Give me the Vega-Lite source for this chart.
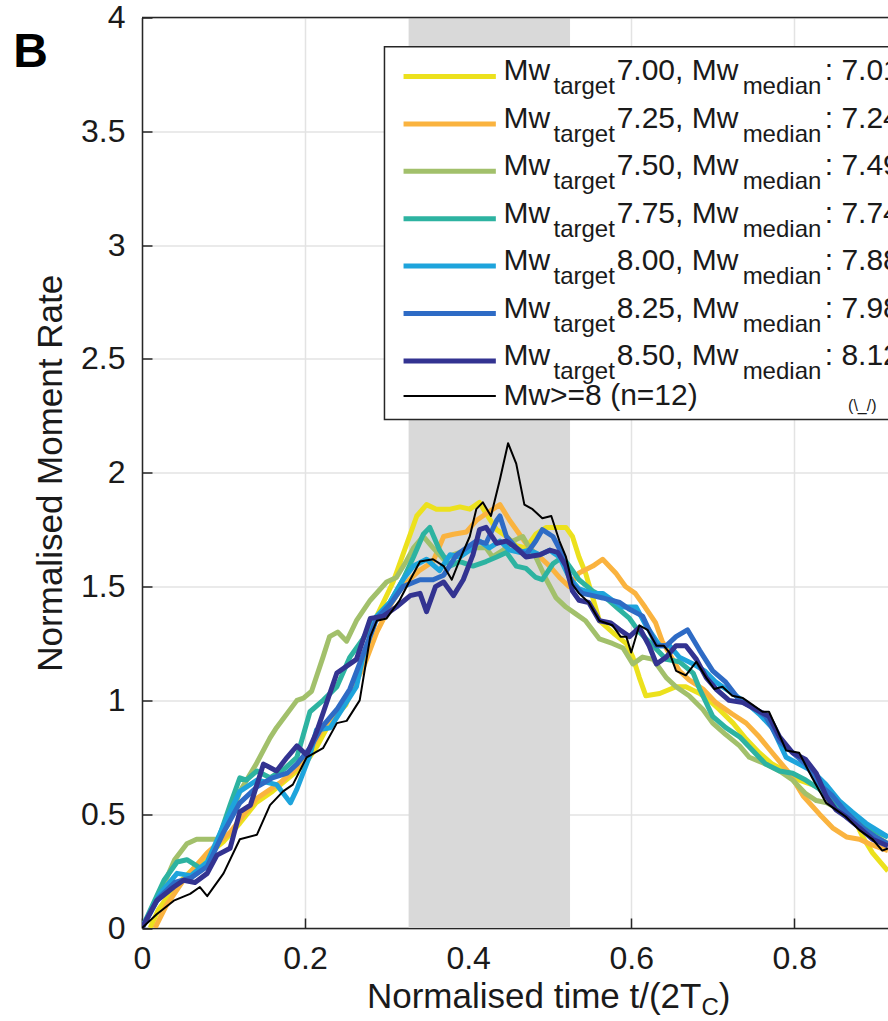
{
"$schema": "https://vega.github.io/schema/vega-lite/v6.json",
"width": 746, "height": 910.5,
"autosize": {"type": "none"},
"padding": {"left": 142, "top": 17.5, "right": 0, "bottom": 93},
"background": "white",
"config": {"view": {"stroke": null}, "font": "Liberation Sans"},
"datasets": {
"curves": [
{"s":"7.00","t":0.010,"v":0},{"s":"7.00","t":0.020,"v":0.08},{"s":"7.00","t":0.040,"v":0.18},{"s":"7.00","t":0.060,"v":0.25},{"s":"7.00","t":0.080,"v":0.32},{"s":"7.00","t":0.100,"v":0.38},{"s":"7.00","t":0.120,"v":0.46},{"s":"7.00","t":0.140,"v":0.55},{"s":"7.00","t":0.160,"v":0.60},{"s":"7.00","t":0.180,"v":0.66},{"s":"7.00","t":0.200,"v":0.72},{"s":"7.00","t":0.215,"v":0.80},{"s":"7.00","t":0.230,"v":0.90},{"s":"7.00","t":0.250,"v":0.98},{"s":"7.00","t":0.271,"v":1.17},{"s":"7.00","t":0.288,"v":1.37},{"s":"7.00","t":0.308,"v":1.52},{"s":"7.00","t":0.324,"v":1.68},{"s":"7.00","t":0.337,"v":1.81},{"s":"7.00","t":0.349,"v":1.86},{"s":"7.00","t":0.361,"v":1.84},{"s":"7.00","t":0.378,"v":1.84},{"s":"7.00","t":0.390,"v":1.85},{"s":"7.00","t":0.402,"v":1.84},{"s":"7.00","t":0.414,"v":1.87},{"s":"7.00","t":0.422,"v":1.82},{"s":"7.00","t":0.435,"v":1.75},{"s":"7.00","t":0.447,"v":1.72},{"s":"7.00","t":0.459,"v":1.68},{"s":"7.00","t":0.471,"v":1.67},{"s":"7.00","t":0.483,"v":1.73},{"s":"7.00","t":0.496,"v":1.76},{"s":"7.00","t":0.508,"v":1.76},{"s":"7.00","t":0.520,"v":1.76},{"s":"7.00","t":0.528,"v":1.72},{"s":"7.00","t":0.536,"v":1.63},{"s":"7.00","t":0.544,"v":1.56},{"s":"7.00","t":0.553,"v":1.45},{"s":"7.00","t":0.561,"v":1.35},{"s":"7.00","t":0.580,"v":1.29},{"s":"7.00","t":0.594,"v":1.25},{"s":"7.00","t":0.602,"v":1.19},{"s":"7.00","t":0.610,"v":1.10},{"s":"7.00","t":0.618,"v":1.02},{"s":"7.00","t":0.635,"v":1.03},{"s":"7.00","t":0.655,"v":1.06},{"s":"7.00","t":0.667,"v":1.06},{"s":"7.00","t":0.684,"v":1.03},{"s":"7.00","t":0.696,"v":1.00},{"s":"7.00","t":0.708,"v":0.96},{"s":"7.00","t":0.725,"v":0.90},{"s":"7.00","t":0.741,"v":0.83},{"s":"7.00","t":0.757,"v":0.77},{"s":"7.00","t":0.773,"v":0.72},{"s":"7.00","t":0.790,"v":0.69},{"s":"7.00","t":0.806,"v":0.65},{"s":"7.00","t":0.822,"v":0.63},{"s":"7.00","t":0.839,"v":0.61},{"s":"7.00","t":0.855,"v":0.55},{"s":"7.00","t":0.871,"v":0.50},{"s":"7.00","t":0.884,"v":0.40},{"s":"7.00","t":0.896,"v":0.33},{"s":"7.00","t":0.915,"v":0.25},
{"s":"7.25","t":0.016,"v":0},{"s":"7.25","t":0.030,"v":0.10},{"s":"7.25","t":0.051,"v":0.21},{"s":"7.25","t":0.080,"v":0.33},{"s":"7.25","t":0.108,"v":0.42},{"s":"7.25","t":0.125,"v":0.50},{"s":"7.25","t":0.141,"v":0.57},{"s":"7.25","t":0.170,"v":0.64},{"s":"7.25","t":0.198,"v":0.73},{"s":"7.25","t":0.222,"v":0.88},{"s":"7.25","t":0.247,"v":0.98},{"s":"7.25","t":0.271,"v":1.14},{"s":"7.25","t":0.288,"v":1.30},{"s":"7.25","t":0.305,"v":1.42},{"s":"7.25","t":0.317,"v":1.49},{"s":"7.25","t":0.328,"v":1.53},{"s":"7.25","t":0.340,"v":1.57},{"s":"7.25","t":0.357,"v":1.61},{"s":"7.25","t":0.370,"v":1.72},{"s":"7.25","t":0.382,"v":1.73},{"s":"7.25","t":0.398,"v":1.74},{"s":"7.25","t":0.410,"v":1.79},{"s":"7.25","t":0.422,"v":1.82},{"s":"7.25","t":0.439,"v":1.86},{"s":"7.25","t":0.451,"v":1.79},{"s":"7.25","t":0.463,"v":1.73},{"s":"7.25","t":0.475,"v":1.67},{"s":"7.25","t":0.488,"v":1.63},{"s":"7.25","t":0.500,"v":1.59},{"s":"7.25","t":0.512,"v":1.54},{"s":"7.25","t":0.524,"v":1.50},{"s":"7.25","t":0.536,"v":1.56},{"s":"7.25","t":0.553,"v":1.59},{"s":"7.25","t":0.565,"v":1.62},{"s":"7.25","t":0.581,"v":1.56},{"s":"7.25","t":0.593,"v":1.50},{"s":"7.25","t":0.605,"v":1.47},{"s":"7.25","t":0.617,"v":1.41},{"s":"7.25","t":0.630,"v":1.34},{"s":"7.25","t":0.638,"v":1.26},{"s":"7.25","t":0.659,"v":1.13},{"s":"7.25","t":0.671,"v":1.09},{"s":"7.25","t":0.688,"v":1.05},{"s":"7.25","t":0.704,"v":0.99},{"s":"7.25","t":0.724,"v":0.94},{"s":"7.25","t":0.741,"v":0.90},{"s":"7.25","t":0.757,"v":0.84},{"s":"7.25","t":0.773,"v":0.77},{"s":"7.25","t":0.794,"v":0.68},{"s":"7.25","t":0.811,"v":0.58},{"s":"7.25","t":0.831,"v":0.50},{"s":"7.25","t":0.847,"v":0.44},{"s":"7.25","t":0.864,"v":0.40},{"s":"7.25","t":0.880,"v":0.39},{"s":"7.25","t":0.892,"v":0.37},{"s":"7.25","t":0.915,"v":0.34},
{"s":"7.50","t":0,"v":0},{"s":"7.50","t":0.022,"v":0.15},{"s":"7.50","t":0.040,"v":0.30},{"s":"7.50","t":0.055,"v":0.37},{"s":"7.50","t":0.067,"v":0.39},{"s":"7.50","t":0.092,"v":0.39},{"s":"7.50","t":0.105,"v":0.45},{"s":"7.50","t":0.120,"v":0.60},{"s":"7.50","t":0.140,"v":0.72},{"s":"7.50","t":0.157,"v":0.835},{"s":"7.50","t":0.165,"v":0.88},{"s":"7.50","t":0.190,"v":1.00},{"s":"7.50","t":0.198,"v":1.01},{"s":"7.50","t":0.208,"v":1.04},{"s":"7.50","t":0.222,"v":1.19},{"s":"7.50","t":0.230,"v":1.28},{"s":"7.50","t":0.240,"v":1.30},{"s":"7.50","t":0.251,"v":1.26},{"s":"7.50","t":0.263,"v":1.35},{"s":"7.50","t":0.280,"v":1.44},{"s":"7.50","t":0.300,"v":1.52},{"s":"7.50","t":0.312,"v":1.54},{"s":"7.50","t":0.324,"v":1.61},{"s":"7.50","t":0.333,"v":1.67},{"s":"7.50","t":0.345,"v":1.72},{"s":"7.50","t":0.357,"v":1.67},{"s":"7.50","t":0.370,"v":1.62},{"s":"7.50","t":0.382,"v":1.64},{"s":"7.50","t":0.398,"v":1.66},{"s":"7.50","t":0.410,"v":1.67},{"s":"7.50","t":0.422,"v":1.67},{"s":"7.50","t":0.430,"v":1.63},{"s":"7.50","t":0.443,"v":1.66},{"s":"7.50","t":0.455,"v":1.70},{"s":"7.50","t":0.467,"v":1.72},{"s":"7.50","t":0.475,"v":1.67},{"s":"7.50","t":0.483,"v":1.63},{"s":"7.50","t":0.496,"v":1.53},{"s":"7.50","t":0.508,"v":1.45},{"s":"7.50","t":0.520,"v":1.41},{"s":"7.50","t":0.532,"v":1.38},{"s":"7.50","t":0.544,"v":1.35},{"s":"7.50","t":0.561,"v":1.27},{"s":"7.50","t":0.577,"v":1.25},{"s":"7.50","t":0.590,"v":1.23},{"s":"7.50","t":0.602,"v":1.16},{"s":"7.50","t":0.614,"v":1.19},{"s":"7.50","t":0.627,"v":1.18},{"s":"7.50","t":0.643,"v":1.10},{"s":"7.50","t":0.655,"v":1.06},{"s":"7.50","t":0.671,"v":1.02},{"s":"7.50","t":0.688,"v":0.96},{"s":"7.50","t":0.700,"v":0.90},{"s":"7.50","t":0.716,"v":0.85},{"s":"7.50","t":0.733,"v":0.80},{"s":"7.50","t":0.745,"v":0.75},{"s":"7.50","t":0.765,"v":0.72},{"s":"7.50","t":0.782,"v":0.69},{"s":"7.50","t":0.798,"v":0.65},{"s":"7.50","t":0.814,"v":0.59},{"s":"7.50","t":0.827,"v":0.56},{"s":"7.50","t":0.840,"v":0.55},{"s":"7.50","t":0.855,"v":0.52},{"s":"7.50","t":0.871,"v":0.48},{"s":"7.50","t":0.888,"v":0.43},{"s":"7.50","t":0.915,"v":0.37},
{"s":"7.75","t":0,"v":0},{"s":"7.75","t":0.027,"v":0.21},{"s":"7.75","t":0.043,"v":0.29},{"s":"7.75","t":0.055,"v":0.30},{"s":"7.75","t":0.073,"v":0.26},{"s":"7.75","t":0.085,"v":0.30},{"s":"7.75","t":0.108,"v":0.54},{"s":"7.75","t":0.120,"v":0.66},{"s":"7.75","t":0.128,"v":0.65},{"s":"7.75","t":0.141,"v":0.69},{"s":"7.75","t":0.157,"v":0.66},{"s":"7.75","t":0.175,"v":0.70},{"s":"7.75","t":0.190,"v":0.75},{"s":"7.75","t":0.206,"v":0.95},{"s":"7.75","t":0.222,"v":1.00},{"s":"7.75","t":0.239,"v":1.06},{"s":"7.75","t":0.255,"v":1.19},{"s":"7.75","t":0.271,"v":1.27},{"s":"7.75","t":0.288,"v":1.37},{"s":"7.75","t":0.304,"v":1.43},{"s":"7.75","t":0.320,"v":1.53},{"s":"7.75","t":0.333,"v":1.63},{"s":"7.75","t":0.345,"v":1.73},{"s":"7.75","t":0.353,"v":1.76},{"s":"7.75","t":0.365,"v":1.66},{"s":"7.75","t":0.378,"v":1.59},{"s":"7.75","t":0.390,"v":1.61},{"s":"7.75","t":0.406,"v":1.59},{"s":"7.75","t":0.422,"v":1.61},{"s":"7.75","t":0.435,"v":1.63},{"s":"7.75","t":0.447,"v":1.65},{"s":"7.75","t":0.459,"v":1.59},{"s":"7.75","t":0.471,"v":1.58},{"s":"7.75","t":0.483,"v":1.54},{"s":"7.75","t":0.491,"v":1.53},{"s":"7.75","t":0.504,"v":1.60},{"s":"7.75","t":0.516,"v":1.63},{"s":"7.75","t":0.524,"v":1.59},{"s":"7.75","t":0.536,"v":1.53},{"s":"7.75","t":0.553,"v":1.48},{"s":"7.75","t":0.569,"v":1.45},{"s":"7.75","t":0.585,"v":1.40},{"s":"7.75","t":0.598,"v":1.36},{"s":"7.75","t":0.610,"v":1.30},{"s":"7.75","t":0.627,"v":1.24},{"s":"7.75","t":0.643,"v":1.18},{"s":"7.75","t":0.659,"v":1.17},{"s":"7.75","t":0.676,"v":1.12},{"s":"7.75","t":0.684,"v":1.05},{"s":"7.75","t":0.700,"v":0.93},{"s":"7.75","t":0.716,"v":0.88},{"s":"7.75","t":0.733,"v":0.84},{"s":"7.75","t":0.749,"v":0.78},{"s":"7.75","t":0.765,"v":0.72},{"s":"7.75","t":0.782,"v":0.69},{"s":"7.75","t":0.798,"v":0.68},{"s":"7.75","t":0.814,"v":0.65},{"s":"7.75","t":0.831,"v":0.61},{"s":"7.75","t":0.847,"v":0.55},{"s":"7.75","t":0.863,"v":0.50},{"s":"7.75","t":0.880,"v":0.46},{"s":"7.75","t":0.896,"v":0.43},{"s":"7.75","t":0.915,"v":0.40},
{"s":"8.00","t":0,"v":0},{"s":"8.00","t":0.022,"v":0.15},{"s":"8.00","t":0.043,"v":0.24},{"s":"8.00","t":0.060,"v":0.23},{"s":"8.00","t":0.080,"v":0.29},{"s":"8.00","t":0.100,"v":0.45},{"s":"8.00","t":0.120,"v":0.60},{"s":"8.00","t":0.141,"v":0.65},{"s":"8.00","t":0.165,"v":0.63},{"s":"8.00","t":0.182,"v":0.55},{"s":"8.00","t":0.190,"v":0.61},{"s":"8.00","t":0.206,"v":0.76},{"s":"8.00","t":0.214,"v":0.87},{"s":"8.00","t":0.231,"v":0.88},{"s":"8.00","t":0.247,"v":0.97},{"s":"8.00","t":0.263,"v":1.06},{"s":"8.00","t":0.271,"v":1.19},{"s":"8.00","t":0.288,"v":1.37},{"s":"8.00","t":0.304,"v":1.43},{"s":"8.00","t":0.320,"v":1.53},{"s":"8.00","t":0.333,"v":1.59},{"s":"8.00","t":0.349,"v":1.62},{"s":"8.00","t":0.365,"v":1.57},{"s":"8.00","t":0.378,"v":1.64},{"s":"8.00","t":0.390,"v":1.63},{"s":"8.00","t":0.402,"v":1.66},{"s":"8.00","t":0.414,"v":1.70},{"s":"8.00","t":0.426,"v":1.67},{"s":"8.00","t":0.439,"v":1.70},{"s":"8.00","t":0.451,"v":1.66},{"s":"8.00","t":0.463,"v":1.65},{"s":"8.00","t":0.475,"v":1.66},{"s":"8.00","t":0.488,"v":1.64},{"s":"8.00","t":0.500,"v":1.66},{"s":"8.00","t":0.512,"v":1.63},{"s":"8.00","t":0.524,"v":1.54},{"s":"8.00","t":0.536,"v":1.49},{"s":"8.00","t":0.553,"v":1.47},{"s":"8.00","t":0.565,"v":1.47},{"s":"8.00","t":0.577,"v":1.44},{"s":"8.00","t":0.589,"v":1.41},{"s":"8.00","t":0.606,"v":1.41},{"s":"8.00","t":0.618,"v":1.33},{"s":"8.00","t":0.635,"v":1.24},{"s":"8.00","t":0.647,"v":1.24},{"s":"8.00","t":0.659,"v":1.19},{"s":"8.00","t":0.676,"v":1.16},{"s":"8.00","t":0.690,"v":1.13},{"s":"8.00","t":0.704,"v":1.08},{"s":"8.00","t":0.720,"v":1.04},{"s":"8.00","t":0.741,"v":0.99},{"s":"8.00","t":0.757,"v":0.94},{"s":"8.00","t":0.773,"v":0.88},{"s":"8.00","t":0.790,"v":0.75},{"s":"8.00","t":0.806,"v":0.72},{"s":"8.00","t":0.822,"v":0.69},{"s":"8.00","t":0.839,"v":0.63},{"s":"8.00","t":0.855,"v":0.56},{"s":"8.00","t":0.871,"v":0.51},{"s":"8.00","t":0.888,"v":0.46},{"s":"8.00","t":0.915,"v":0.40},
{"s":"8.25","t":0,"v":0},{"s":"8.25","t":0.020,"v":0.13},{"s":"8.25","t":0.040,"v":0.20},{"s":"8.25","t":0.060,"v":0.22},{"s":"8.25","t":0.080,"v":0.27},{"s":"8.25","t":0.100,"v":0.42},{"s":"8.25","t":0.120,"v":0.55},{"s":"8.25","t":0.141,"v":0.62},{"s":"8.25","t":0.160,"v":0.66},{"s":"8.25","t":0.178,"v":0.68},{"s":"8.25","t":0.190,"v":0.72},{"s":"8.25","t":0.206,"v":0.79},{"s":"8.25","t":0.220,"v":0.88},{"s":"8.25","t":0.239,"v":0.96},{"s":"8.25","t":0.255,"v":1.05},{"s":"8.25","t":0.271,"v":1.20},{"s":"8.25","t":0.288,"v":1.36},{"s":"8.25","t":0.304,"v":1.42},{"s":"8.25","t":0.320,"v":1.50},{"s":"8.25","t":0.341,"v":1.53},{"s":"8.25","t":0.357,"v":1.53},{"s":"8.25","t":0.370,"v":1.55},{"s":"8.25","t":0.386,"v":1.64},{"s":"8.25","t":0.398,"v":1.67},{"s":"8.25","t":0.410,"v":1.70},{"s":"8.25","t":0.422,"v":1.69},{"s":"8.25","t":0.435,"v":1.79},{"s":"8.25","t":0.439,"v":1.81},{"s":"8.25","t":0.447,"v":1.72},{"s":"8.25","t":0.459,"v":1.67},{"s":"8.25","t":0.471,"v":1.64},{"s":"8.25","t":0.483,"v":1.70},{"s":"8.25","t":0.491,"v":1.75},{"s":"8.25","t":0.504,"v":1.72},{"s":"8.25","t":0.516,"v":1.64},{"s":"8.25","t":0.528,"v":1.51},{"s":"8.25","t":0.540,"v":1.47},{"s":"8.25","t":0.553,"v":1.46},{"s":"8.25","t":0.565,"v":1.45},{"s":"8.25","t":0.586,"v":1.43},{"s":"8.25","t":0.598,"v":1.40},{"s":"8.25","t":0.614,"v":1.37},{"s":"8.25","t":0.631,"v":1.24},{"s":"8.25","t":0.643,"v":1.24},{"s":"8.25","t":0.655,"v":1.28},{"s":"8.25","t":0.669,"v":1.31},{"s":"8.25","t":0.684,"v":1.22},{"s":"8.25","t":0.700,"v":1.13},{"s":"8.25","t":0.716,"v":1.08},{"s":"8.25","t":0.733,"v":1.00},{"s":"8.25","t":0.749,"v":0.97},{"s":"8.25","t":0.765,"v":0.93},{"s":"8.25","t":0.782,"v":0.82},{"s":"8.25","t":0.798,"v":0.77},{"s":"8.25","t":0.814,"v":0.72},{"s":"8.25","t":0.831,"v":0.63},{"s":"8.25","t":0.847,"v":0.58},{"s":"8.25","t":0.863,"v":0.51},{"s":"8.25","t":0.884,"v":0.44},{"s":"8.25","t":0.900,"v":0.40},{"s":"8.25","t":0.915,"v":0.37},
{"s":"8.50","t":0,"v":0},{"s":"8.50","t":0.018,"v":0.12},{"s":"8.50","t":0.039,"v":0.18},{"s":"8.50","t":0.051,"v":0.21},{"s":"8.50","t":0.065,"v":0.20},{"s":"8.50","t":0.080,"v":0.24},{"s":"8.50","t":0.092,"v":0.32},{"s":"8.50","t":0.108,"v":0.35},{"s":"8.50","t":0.120,"v":0.51},{"s":"8.50","t":0.133,"v":0.54},{"s":"8.50","t":0.149,"v":0.72},{"s":"8.50","t":0.165,"v":0.69},{"s":"8.50","t":0.178,"v":0.75},{"s":"8.50","t":0.190,"v":0.80},{"s":"8.50","t":0.202,"v":0.76},{"s":"8.50","t":0.214,"v":0.86},{"s":"8.50","t":0.239,"v":1.12},{"s":"8.50","t":0.263,"v":1.18},{"s":"8.50","t":0.280,"v":1.36},{"s":"8.50","t":0.296,"v":1.37},{"s":"8.50","t":0.312,"v":1.41},{"s":"8.50","t":0.329,"v":1.46},{"s":"8.50","t":0.341,"v":1.47},{"s":"8.50","t":0.349,"v":1.39},{"s":"8.50","t":0.360,"v":1.50},{"s":"8.50","t":0.370,"v":1.52},{"s":"8.50","t":0.382,"v":1.46},{"s":"8.50","t":0.394,"v":1.53},{"s":"8.50","t":0.406,"v":1.64},{"s":"8.50","t":0.414,"v":1.75},{"s":"8.50","t":0.422,"v":1.76},{"s":"8.50","t":0.435,"v":1.69},{"s":"8.50","t":0.447,"v":1.70},{"s":"8.50","t":0.459,"v":1.67},{"s":"8.50","t":0.471,"v":1.63},{"s":"8.50","t":0.488,"v":1.64},{"s":"8.50","t":0.500,"v":1.66},{"s":"8.50","t":0.510,"v":1.65},{"s":"8.50","t":0.520,"v":1.59},{"s":"8.50","t":0.528,"v":1.48},{"s":"8.50","t":0.536,"v":1.44},{"s":"8.50","t":0.548,"v":1.43},{"s":"8.50","t":0.561,"v":1.35},{"s":"8.50","t":0.575,"v":1.34},{"s":"8.50","t":0.586,"v":1.31},{"s":"8.50","t":0.598,"v":1.28},{"s":"8.50","t":0.610,"v":1.32},{"s":"8.50","t":0.622,"v":1.24},{"s":"8.50","t":0.631,"v":1.16},{"s":"8.50","t":0.643,"v":1.19},{"s":"8.50","t":0.655,"v":1.24},{"s":"8.50","t":0.667,"v":1.24},{"s":"8.50","t":0.680,"v":1.18},{"s":"8.50","t":0.692,"v":1.10},{"s":"8.50","t":0.704,"v":1.05},{"s":"8.50","t":0.720,"v":1.00},{"s":"8.50","t":0.737,"v":0.99},{"s":"8.50","t":0.753,"v":0.96},{"s":"8.50","t":0.769,"v":0.93},{"s":"8.50","t":0.782,"v":0.84},{"s":"8.50","t":0.798,"v":0.77},{"s":"8.50","t":0.814,"v":0.74},{"s":"8.50","t":0.827,"v":0.68},{"s":"8.50","t":0.839,"v":0.58},{"s":"8.50","t":0.851,"v":0.52},{"s":"8.50","t":0.863,"v":0.49},{"s":"8.50","t":0.880,"v":0.44},{"s":"8.50","t":0.896,"v":0.39},{"s":"8.50","t":0.915,"v":0.36}
],
"black": [
{"t":0,"v":0},{"t":0.018,"v":0.06},{"t":0.039,"v":0.12},{"t":0.059,"v":0.15},{"t":0.071,"v":0.18},{"t":0.080,"v":0.14},{"t":0.100,"v":0.24},{"t":0.120,"v":0.39},{"t":0.141,"v":0.41},{"t":0.157,"v":0.54},{"t":0.173,"v":0.60},{"t":0.185,"v":0.63},{"t":0.202,"v":0.75},{"t":0.222,"v":0.79},{"t":0.239,"v":0.90},{"t":0.251,"v":0.91},{"t":0.267,"v":1.00},{"t":0.280,"v":1.28},{"t":0.288,"v":1.35},{"t":0.300,"v":1.36},{"t":0.316,"v":1.44},{"t":0.329,"v":1.53},{"t":0.341,"v":1.61},{"t":0.357,"v":1.62},{"t":0.370,"v":1.59},{"t":0.380,"v":1.53},{"t":0.390,"v":1.62},{"t":0.402,"v":1.72},{"t":0.410,"v":1.84},{"t":0.418,"v":1.87},{"t":0.428,"v":1.81},{"t":0.439,"v":1.97},{"t":0.449,"v":2.13},{"t":0.459,"v":2.04},{"t":0.469,"v":1.86},{"t":0.479,"v":1.84},{"t":0.491,"v":1.80},{"t":0.502,"v":1.81},{"t":0.512,"v":1.70},{"t":0.520,"v":1.63},{"t":0.528,"v":1.51},{"t":0.536,"v":1.47},{"t":0.548,"v":1.43},{"t":0.561,"v":1.35},{"t":0.577,"v":1.33},{"t":0.587,"v":1.28},{"t":0.594,"v":1.28},{"t":0.600,"v":1.21},{"t":0.610,"v":1.33},{"t":0.620,"v":1.31},{"t":0.631,"v":1.24},{"t":0.640,"v":1.24},{"t":0.647,"v":1.21},{"t":0.655,"v":1.13},{"t":0.667,"v":1.11},{"t":0.680,"v":1.17},{"t":0.692,"v":1.10},{"t":0.702,"v":1.05},{"t":0.712,"v":1.06},{"t":0.724,"v":1.02},{"t":0.737,"v":1.01},{"t":0.749,"v":0.98},{"t":0.761,"v":0.95},{"t":0.769,"v":0.95},{"t":0.778,"v":0.88},{"t":0.790,"v":0.78},{"t":0.806,"v":0.77},{"t":0.822,"v":0.66},{"t":0.839,"v":0.55},{"t":0.851,"v":0.52},{"t":0.863,"v":0.49},{"t":0.880,"v":0.43},{"t":0.896,"v":0.39},{"t":0.908,"v":0.34},{"t":0.915,"v":0.35}
],
"legend": [
{"s":"7.00","order":1,"num":"7.00, Mw","med":": 7.01"},
{"s":"7.25","order":2,"num":"7.25, Mw","med":": 7.24"},
{"s":"7.50","order":3,"num":"7.50, Mw","med":": 7.49"},
{"s":"7.75","order":4,"num":"7.75, Mw","med":": 7.74"},
{"s":"8.00","order":5,"num":"8.00, Mw","med":": 7.88"},
{"s":"8.25","order":6,"num":"8.25, Mw","med":": 7.98"},
{"s":"8.50","order":7,"num":"8.50, Mw","med":": 8.12"}
],
"one": [{}]
},
"layer": [
{
"layer": [
{"data": {"name": "one"}, "mark": {"type": "rect", "color": "#d9d9d9"},
 "encoding": {
  "x": {"datum": 0.327, "type": "quantitative", "scale": {"domain": [0, 0.915], "nice": false, "zero": false},
        "axis": {"values": [0,0.2,0.4,0.6,0.8], "format": "~g", "title": null, "grid": true, "gridColor": "#e3e3e3", "gridWidth": 1.5,
                 "domainColor": "#262626", "domainWidth": 1.5, "tickColor": "#262626", "tickWidth": 1.5, "tickSize": -10,
                 "labelFontSize": 32, "labelColor": "#1a1a1a", "labelPadding": 25, "labelFlush": false, "labelOverlap": false, "labelFont": "Liberation Sans"}},
  "x2": {"datum": 0.525},
  "y": {"datum": 0, "type": "quantitative", "scale": {"domain": [0, 4], "nice": false, "zero": false},
        "axis": {"values": [0,0.5,1,1.5,2,2.5,3,3.5,4], "format": "~g", "title": "Normalised Moment Rate", "titleFontSize": 35, "titleFontWeight": "normal",
                 "titleColor": "#1a1a1a", "titleFont": "Liberation Sans", "titlePadding": 12, "grid": true, "gridColor": "#e3e3e3", "gridWidth": 1.5,
                 "domainColor": "#262626", "domainWidth": 1.5, "tickColor": "#262626", "tickWidth": 1.5, "tickSize": -10,
                 "labelFontSize": 32, "labelColor": "#1a1a1a", "labelPadding": 27, "labelFlush": false, "labelOverlap": false, "labelFont": "Liberation Sans"}},
  "y2": {"datum": 4}}},
{"data": {"name": "curves"}, "mark": {"type": "line", "strokeWidth": 5, "clip": true, "strokeJoin": "round"},
 "encoding": {
  "x": {"field": "t", "type": "quantitative"},
  "y": {"field": "v", "type": "quantitative"},
  "color": {"field": "s", "type": "nominal", "legend": null,
            "scale": {"domain": ["7.00","7.25","7.50","7.75","8.00","8.25","8.50"], "range": ["#ece11d","#fab33f","#a2c06b","#2db3a1","#1ea4dc","#2e6bc5","#333391"]}}
 }},
{"data": {"name": "black"}, "mark": {"type": "line", "strokeWidth": 2, "color": "#000000", "clip": true, "strokeJoin": "round"},
 "encoding": {"x": {"field": "t", "type": "quantitative"}, "y": {"field": "v", "type": "quantitative"}}},
{"data": {"name": "one"}, "mark": {"type": "rule", "color": "#262626", "strokeWidth": 1.5},
 "encoding": {"x": {"datum": 0}, "x2": {"datum": 0.915}, "y": {"datum": 4}}},
{"data": {"name": "one"}, "mark": {"type": "rect", "fill": "white", "stroke": "#262626", "strokeWidth": 1.5},
 "encoding": {"x": {"datum": 0.2974}, "x2": {"datum": 1.0}, "y": {"datum": 3.871}, "y2": {"datum": 2.234}}},
{"data": {"name": "one"}, "mark": {"type": "rule", "color": "#000000", "strokeWidth": 2},
 "encoding": {"x": {"datum": 0.3208}, "x2": {"datum": 0.434}, "y": {"datum": 2.3374}}},
{"data": {"name": "one"}, "mark": {"type": "text", "text": "Mw>=8 (n=12)", "fontSize": 30, "align": "left", "baseline": "alphabetic", "color": "#1a1a1a", "font": "Liberation Sans"},
 "encoding": {"x": {"datum": 0.4433}, "y": {"datum": 2.298}}},
{"data": {"name": "one"}, "mark": {"type": "text", "text": "(\\_/)", "fontSize": 16, "align": "left", "baseline": "alphabetic", "color": "#1a1a1a", "font": "Liberation Sans"},
 "encoding": {"x": {"datum": 0.866}, "y": {"datum": 2.27}}},
{"data": {"name": "one"}, "mark": {"type": "text", "text": "B", "fontSize": 48, "fontWeight": "bold", "align": "left", "baseline": "alphabetic", "color": "#000000", "font": "Liberation Sans"},
 "encoding": {"x": {"datum": -0.158}, "y": {"datum": 3.783}}},
{"data": {"name": "one"}, "mark": {"type": "text", "text": "Normalised time t/(2T", "fontSize": 35, "align": "left", "baseline": "alphabetic", "color": "#1a1a1a", "font": "Liberation Sans"},
 "encoding": {"x": {"datum": 0.2759}, "y": {"datum": -0.3515}}},
{"data": {"name": "one"}, "mark": {"type": "text", "text": "C", "fontSize": 24, "align": "left", "baseline": "alphabetic", "color": "#1a1a1a", "font": "Liberation Sans"},
 "encoding": {"x": {"datum": 0.6862}, "y": {"datum": -0.3822}}},
{"data": {"name": "one"}, "mark": {"type": "text", "text": ")", "fontSize": 35, "align": "left", "baseline": "alphabetic", "color": "#1a1a1a", "font": "Liberation Sans"},
 "encoding": {"x": {"datum": 0.7074}, "y": {"datum": -0.3515}}}
]
},
{
"data": {"name": "legend"},
"layer": [
{"mark": {"type": "rule", "strokeWidth": 5},
 "encoding": {"x": {"datum": 0.3208}, "x2": {"datum": 0.434},
  "y": {"field": "order", "type": "quantitative", "axis": null, "scale": {"domain": [-0.2447, 18.964], "reverse": true, "nice": false, "zero": false}},
  "color": {"field": "s", "type": "nominal", "legend": null}}},
{"mark": {"type": "text", "text": "Mw", "fontSize": 30, "align": "left", "baseline": "alphabetic", "dy": 4, "color": "#1a1a1a", "font": "Liberation Sans"},
 "encoding": {"x": {"datum": 0.4433}, "y": {"field": "order", "type": "quantitative", "axis": null}}},
{"mark": {"type": "text", "text": "target", "fontSize": 24, "align": "left", "baseline": "alphabetic", "dy": 18, "color": "#1a1a1a", "font": "Liberation Sans"},
 "encoding": {"x": {"datum": 0.5047}, "y": {"field": "order", "type": "quantitative", "axis": null}}},
{"mark": {"type": "text", "fontSize": 30, "align": "left", "baseline": "alphabetic", "dy": 4, "color": "#1a1a1a", "font": "Liberation Sans"},
 "encoding": {"x": {"datum": 0.5822}, "y": {"field": "order", "type": "quantitative", "axis": null}, "text": {"field": "num"}}},
{"mark": {"type": "text", "text": "median", "fontSize": 24, "align": "left", "baseline": "alphabetic", "dy": 18, "color": "#1a1a1a", "font": "Liberation Sans"},
 "encoding": {"x": {"datum": 0.7367}, "y": {"field": "order", "type": "quantitative", "axis": null}}},
{"mark": {"type": "text", "fontSize": 30, "align": "left", "baseline": "alphabetic", "dy": 4, "color": "#1a1a1a", "font": "Liberation Sans"},
 "encoding": {"x": {"datum": 0.8374}, "y": {"field": "order", "type": "quantitative", "axis": null}, "text": {"field": "med"}}}
]
}
],
"resolve": {"scale": {"y": "independent"}}
}
